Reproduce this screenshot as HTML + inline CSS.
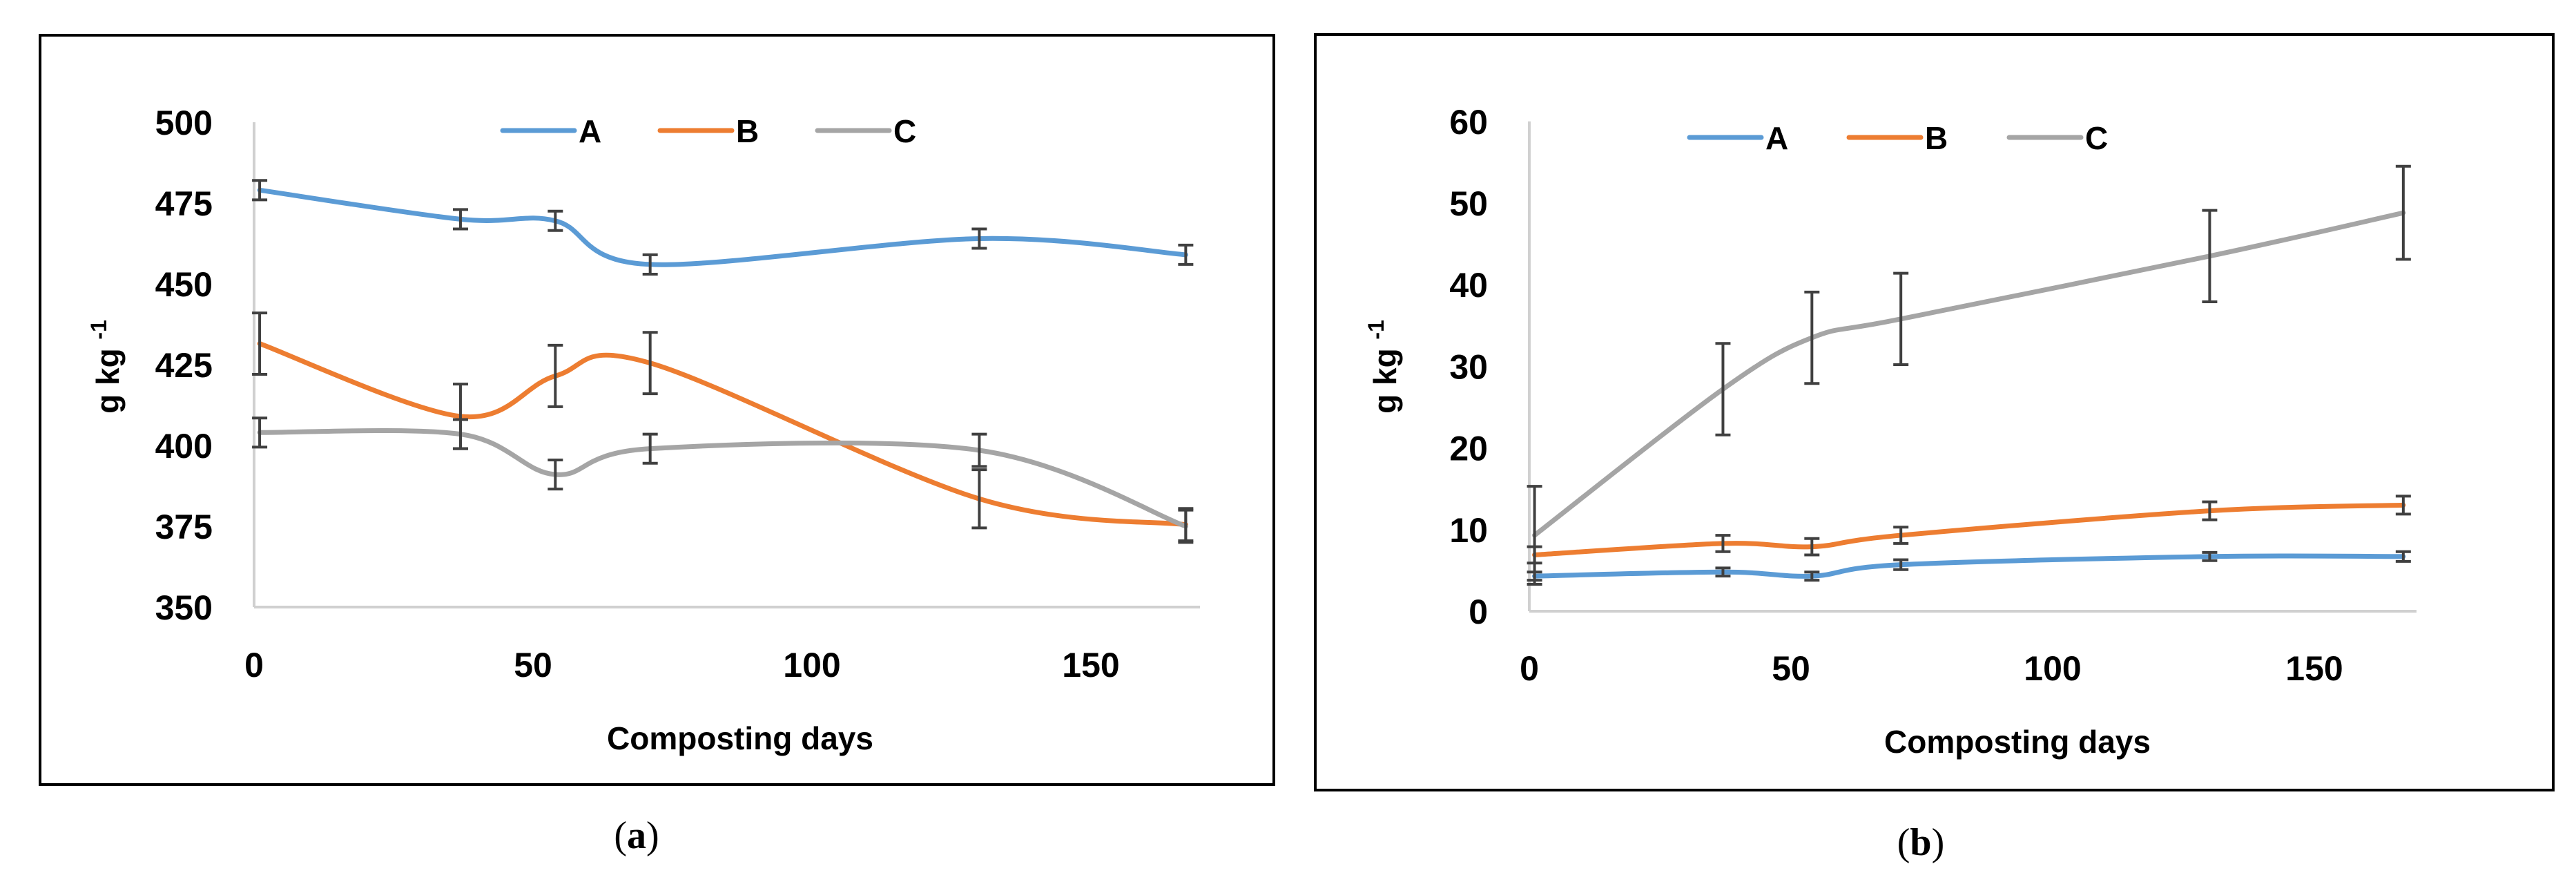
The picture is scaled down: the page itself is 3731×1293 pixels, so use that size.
<!DOCTYPE html>
<html><head><meta charset="utf-8"><style>
html,body{margin:0;padding:0;background:#fff;}
svg{display:block;}
text{font-family:"Liberation Sans",sans-serif;font-weight:bold;fill:#000;}
</style></head><body>
<svg id="chart" width="3731" height="1293" viewBox="0 0 3731 1293" xmlns="http://www.w3.org/2000/svg">
<rect x="58" y="51" width="1787" height="1085" fill="none" stroke="#000" stroke-width="4"/>
<rect x="1905" y="50" width="1793" height="1094" fill="none" stroke="#000" stroke-width="4"/>
<text x="922" y="1228" font-family="Liberation Serif" font-weight="normal" font-size="56" text-anchor="middle" style="font-family:'Liberation Serif',serif;font-weight:normal">(<tspan font-weight="bold" style="font-weight:bold">a</tspan>)</text>
<text x="2782" y="1238" font-size="56" text-anchor="middle" style="font-family:'Liberation Serif',serif;font-weight:normal">(<tspan style="font-weight:bold">b</tspan>)</text>
<g id="pa"></g>
<g id="pb"></g>
</svg>
<script>
const days = [1, 37, 54, 71, 130, 167];
const seriesNames = ['A', 'B', 'C'];
const aA = [479, 470, 469.5, 456, 464, 459];
const aB = [431.5, 409, 421.5, 425.5, 383.5, 375.5];
const aC = [404, 403.5, 391, 399, 398.5, 375];
const aErrA = [3, 3, 3, 3, 3, 3];
const aErrB = [9.5, 10, 9.5, 9.5, 9, 5];
const aErrC = [4.5, 4.5, 4.5, 4.5, 5, 5];
const aTicks = [350, 375, 400, 425, 450, 475, 500];
const bA = [4.3, 4.8, 4.3, 5.7, 6.7, 6.7];
const bB = [6.9, 8.3, 7.9, 9.3, 12.3, 13.0];
const bC = [9.3, 27.2, 33.5, 35.8, 43.5, 48.8];
const bErrA = [0.5, 0.5, 0.5, 0.6, 0.5, 0.6];
const bErrB = [1.0, 1.0, 1.0, 1.0, 1.1, 1.1];
const bErrC = [6, 5.6, 5.6, 5.6, 5.6, 5.7];
const bTicks = [0, 10, 20, 30, 40, 50, 60];
const xTicks = [0, 50, 100, 150];
const colors = ['#5B9BD5', '#ED7D31', '#A5A5A5'];
const NS = 'http://www.w3.org/2000/svg';
function mk(parent, tag, attrs){const e=document.createElementNS(NS,tag);for(const k in attrs)e.setAttribute(k,attrs[k]);parent.appendChild(e);return e;}
function smooth(pts){let d='M'+pts[0][0]+','+pts[0][1];for(let i=0;i<pts.length-1;i++){const p0=pts[Math.max(0,i-1)],p1=pts[i],p2=pts[i+1],p3=pts[Math.min(pts.length-1,i+2)];const t=1/6;const c1=[p1[0]+(p2[0]-p0[0])*t,p1[1]+(p2[1]-p0[1])*t];const c2=[p2[0]-(p3[0]-p1[0])*t,p2[1]-(p3[1]-p1[1])*t];d+=' C'+c1[0]+','+c1[1]+' '+c2[0]+','+c2[1]+' '+p2[0]+','+p2[1];}return d;}
function panel(g, cfg){
  const X=v=>cfg.x0+(v)*cfg.xs;
  const Y=v=>cfg.yb-(v-cfg.ymin)*cfg.ys;
  let e=mk(g,'line',{x1:cfg.x0,y1:Y(cfg.ymin),x2:cfg.xend,y2:Y(cfg.ymin),stroke:'#d0d0d0','stroke-width':4});
  
  
  e=mk(g,'line',{x1:cfg.x0,y1:Y(cfg.ymin),x2:cfg.x0,y2:Y(cfg.ymax),stroke:'#d0d0d0','stroke-width':4});
  
  
  cfg.yt.forEach(v=>{const t=mk(g,'text',{x:cfg.x0-60,y:Y(v)+18,'font-size':50,'text-anchor':'end',transform:''});t.textContent=v;
    
    });
  xTicks.forEach(v=>{const t=mk(g,'text',{x:X(v),y:cfg.xly,'font-size':50,'text-anchor':'middle'});t.textContent=v;
    
    });
  let t=mk(g,'text',{x:cfg.tx,y:cfg.ty,'font-size':46,'text-anchor':'middle'});t.textContent='Composting days';
  
  
  t=mk(g,'text',{x:0,y:0,'font-size':46,'text-anchor':'middle',transform:'translate('+cfg.ylx+','+cfg.yly+') rotate(-90)'});t.innerHTML='g kg <tspan dy="-18" font-size="32">-1</tspan>';
  
  
  cfg.series.forEach((s,i)=>{
    const pts=days.map((d,j)=>[X(d),Y(s[j])]);
    const p=mk(g,'path',{d:smooth(pts),fill:'none',stroke:colors[i],'stroke-width':7,'stroke-linecap':'round'});
    
    
  });
  cfg.series.forEach((s,i)=>{
    days.forEach((d,j)=>{
      const x=X(d),y1=Y(s[j]+cfg.err[i][j]),y2=Y(s[j]-cfg.err[i][j]);
      const eb=mk(g,'path',{d:`M${x},${y1}V${y2}M${x-11},${y1}H${x+11}M${x-11},${y2}H${x+11}`,stroke:'#404040','stroke-width':4,fill:'none'});
      
      
    });
  });
  cfg.leg.forEach((lx,i)=>{
    const l=mk(g,'line',{x1:lx,y1:cfg.legy,x2:lx+104,y2:cfg.legy,stroke:colors[i],'stroke-width':7,'stroke-linecap':'round'});
    
    
    const lt=mk(g,'text',{x:lx+110,y:cfg.legy+17,'font-size':46});lt.textContent=seriesNames[i];
    
    
  });
}
panel(document.getElementById('pa'),{x0:368,xs:8.08,xend:1738,yb:879,ymin:350,ymax:500,ys:4.68,yt:aTicks,xly:980,tx:1072,ty:1085,ylx:172,yly:531,
  series:[aA,aB,aC],err:[aErrA,aErrB,aErrC],leg:[728,956,1184],legy:189});
panel(document.getElementById('pb'),{x0:2215,xs:7.58,xend:3500,yb:885,ymin:0,ymax:60,ys:11.82,yt:bTicks,xly:985,tx:2922,ty:1090,ylx:2022,yly:531,
  series:[bA,bB,bC],err:[bErrA,bErrB,bErrC],leg:[2447,2678,2910],legy:199});
</script>
</body></html>
